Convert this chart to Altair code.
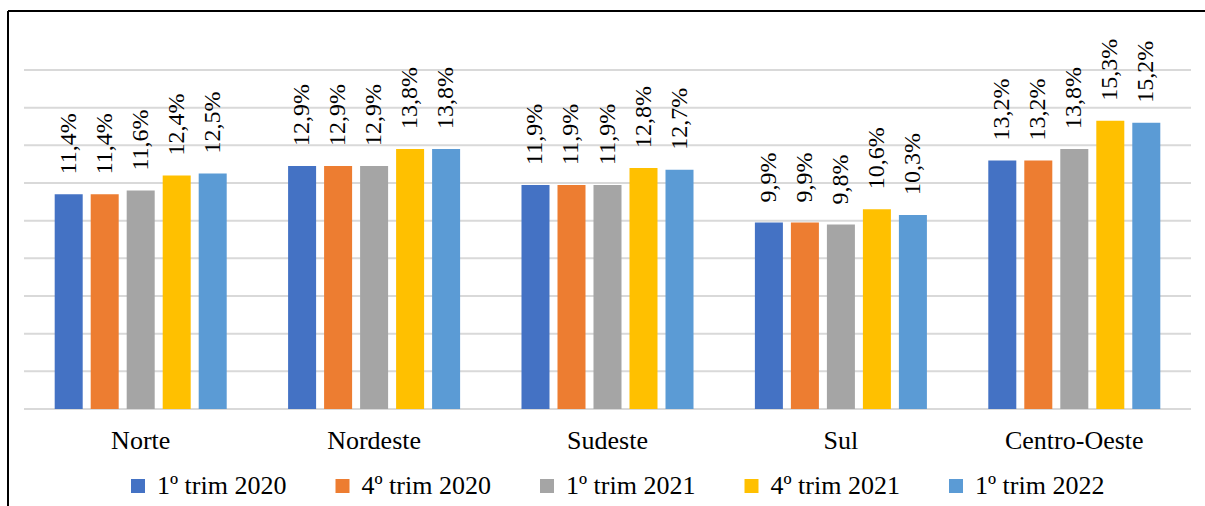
import altair as alt
import pandas as pd

# Regions (x categories) and survey quarters (series)
regions = ["Norte", "Nordeste", "Sudeste", "Sul", "Centro-Oeste"]
quarters = ["1º trim 2020", "4º trim 2020", "1º trim 2021", "4º trim 2021", "1º trim 2022"]
colors = ["#4472C4", "#ED7D31", "#A5A5A5", "#FFC000", "#5B9BD5"]

# Rate (%) per region, one list per quarter
q1_2020 = [11.4, 12.9, 11.9, 9.9, 13.2]
q4_2020 = [11.4, 12.9, 11.9, 9.9, 13.2]
q1_2021 = [11.6, 12.9, 11.9, 9.8, 13.8]
q4_2021 = [12.4, 13.8, 12.8, 10.6, 15.3]
q1_2022 = [12.5, 13.8, 12.7, 10.3, 15.2]

# Horizontal gridlines on the value axis
grid_values = [0, 2, 4, 6, 8, 10, 12, 14, 16, 18]

series = [q1_2020, q4_2020, q1_2021, q4_2021, q1_2022]
rows = []
for q, vals in zip(quarters, series):
    for r, v in zip(regions, vals):
        rows.append({
            "regiao": r,
            "trimestre": q,
            "valor": v,
            "rotulo": f"{v:.1f}".replace(".", ",") + "%",
        })
df = pd.DataFrame(rows)
grid_df = pd.DataFrame({"valor": grid_values})

FONT = "Liberation Serif"

y_scale = alt.Scale(domain=[0, 18], nice=False, zero=True)

x_enc = alt.X(
    "regiao:N",
    sort=regions,
    title=None,
    scale=alt.Scale(paddingInner=0.263, paddingOuter=0.1315),
    axis=alt.Axis(
        labelFont=FONT, labelFontSize=26, labelColor="black", labelAngle=0,
        labelBaseline="alphabetic", labelPadding=39, ticks=False, tickSize=0,
        domain=False, grid=False,
    ),
)
xoff_enc = alt.XOffset(
    "trimestre:N", sort=quarters,
    scale=alt.Scale(paddingInner=0.222, paddingOuter=0),
)
y_enc = alt.Y("valor:Q", title=None, scale=y_scale, axis=None)
color_enc = alt.Color(
    "trimestre:N",
    sort=quarters,
    scale=alt.Scale(domain=quarters, range=colors),
    legend=alt.Legend(
        title=None, orient="none", direction="horizontal", columns=5,
        legendX=101, legendY=403, padding=0,
        symbolType="square", symbolSize=196, symbolStrokeWidth=0, symbolOpacity=1,
        labelFont=FONT, labelFontSize=26, labelColor="black", labelOffset=6,
        columnPadding=42.5, labelLimit=300,
    ),
)

grid = alt.Chart(grid_df).mark_rule(color="#d9d9d9", strokeWidth=2).encode(
    y=alt.Y("valor:Q", scale=y_scale, axis=None),
    x=alt.value(0),
    x2=alt.value(1167),
)

bars = alt.Chart(df).mark_bar().encode(
    x=x_enc, xOffset=xoff_enc, y=y_enc, color=color_enc,
)

labels = alt.Chart(df).mark_text(
    angle=270, align="left", baseline="middle", dx=20,
    font=FONT, fontSize=24, color="black",
).encode(
    x=x_enc,
    xOffset=xoff_enc,
    y=y_enc,
    text="rotulo:N",
)

# Outer frame around the figure (left and top edges)
frame_df = pd.DataFrame({"k": [0]})
frame_left = alt.Chart(frame_df).mark_rule(color="black", strokeWidth=2).encode(
    x=alt.value(-16), y=alt.value(-59), y2=alt.value(460),
)
frame_top = alt.Chart(frame_df).mark_rule(color="black", strokeWidth=2).encode(
    x=alt.value(-16), x2=alt.value(1200), y=alt.value(-59),
)

chart = alt.layer(grid, bars, labels, frame_left, frame_top).properties(
    width=1167,
    height=339,
    padding={"left": 24, "top": 70, "right": 14, "bottom": 97},
    autosize=alt.AutoSizeParams(type="none"),
    background="white",
).configure_view(
    stroke=None
).configure_text(
    font=FONT
).configure_legend(
    labelFont=FONT
)

chart.save("out.html", embed_options={"renderer": "svg", "actions": False})
